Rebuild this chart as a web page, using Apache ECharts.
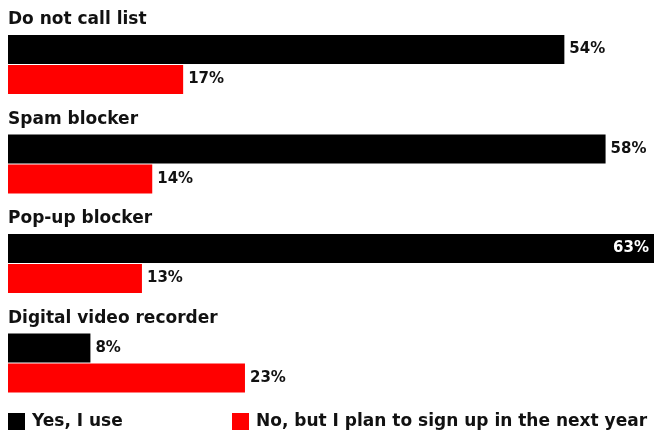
<!DOCTYPE html>
<html>
<head>
<meta charset="utf-8">
<script src="https://cdn.jsdelivr.net/npm/echarts@6/dist/echarts.min.js"></script>
<style>
html,body{margin:0;padding:0;background:#fff;}
#chart{width:654px;height:432px;}
</style>
</head>
<body>
<div id="chart"></div>
<script>
const categories = ['Do not call list', 'Spam blocker', 'Pop-up blocker', 'Digital video recorder'];
const yesUse = [54, 58, 63, 8];
const planToSign = [17, 14, 13, 23];
const seriesNames = ['Yes, I use', 'No, but I plan to sign up in the next year'];

const FONT = 'DejaVu Sans';
const TXT = '#111';

const chart = echarts.init(document.getElementById('chart'));

function labelled(values) {
  return values.map(v => {
    if (v >= 60) {
      return { value: v, label: { position: 'insideRight', color: '#fff', distance: 5 } };
    }
    return v;
  });
}

const valueLabel = {
  show: true,
  position: 'right',
  distance: 5,
  formatter: '{c}%',
  fontFamily: FONT,
  fontWeight: 'bold',
  fontSize: 15,
  color: TXT
};

const legendText = { fontFamily: FONT, fontWeight: 'bold', fontSize: 17, color: TXT, padding: [0, 0, 0, 2] };

chart.setOption({
  animation: false,
  backgroundColor: '#fff',
  grid: { left: 8, right: 0, top: 14.75, height: 398, containLabel: false, outerBoundsMode: 'none' },
  xAxis: {
    type: 'value', min: 0, max: 62.7, show: false
  },
  yAxis: {
    type: 'category',
    data: categories,
    inverse: true,
    axisLine: { show: false },
    axisTick: { show: false },
    splitLine: { show: false },
    axisLabel: {
      inside: true,
      margin: 0,
      align: 'left',
      verticalAlign: 'bottom',
      lineHeight: 89,
      fontFamily: FONT,
      fontWeight: 'bold',
      fontSize: 17,
      color: TXT
    },
    z: 10
  },
  legend: [
    {
      left: 8, top: 413, padding: 0,
      data: [{ name: seriesNames[0], icon: 'rect' }],
      itemWidth: 17, itemHeight: 17,
      textStyle: legendText
    },
    {
      left: 232, top: 413, padding: 0,
      data: [{ name: seriesNames[1], icon: 'rect' }],
      itemWidth: 17, itemHeight: 17,
      textStyle: legendText
    }
  ],
  series: [
    {
      name: seriesNames[0],
      type: 'bar',
      data: labelled(yesUse),
      barWidth: 29,
      barGap: '4%',
      clip: true,
      itemStyle: { color: '#000' },
      label: valueLabel
    },
    {
      name: seriesNames[1],
      type: 'bar',
      data: labelled(planToSign),
      barWidth: 29,
      clip: true,
      itemStyle: { color: '#ff0000' },
      label: valueLabel
    }
  ]
});
</script>
</body>
</html>
